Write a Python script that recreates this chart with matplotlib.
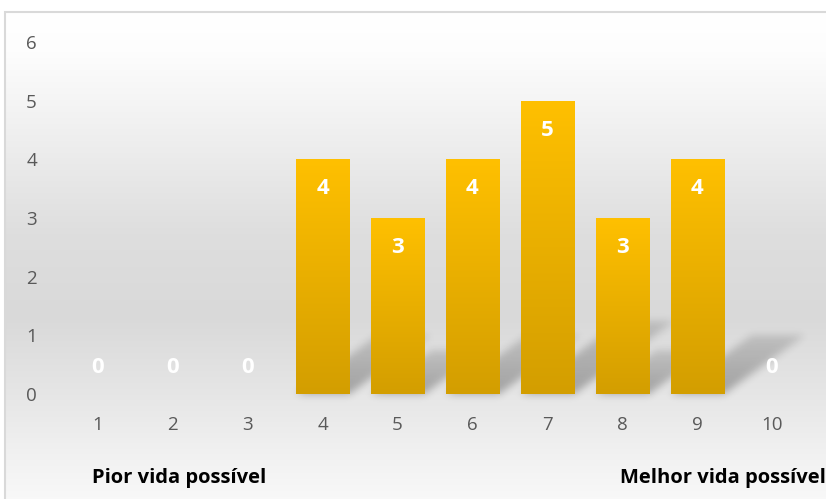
import numpy as np
import matplotlib.pyplot as plt
from matplotlib.colors import LinearSegmentedColormap
from matplotlib.patches import Rectangle
from matplotlib.path import Path

# data
categories = ["1", "2", "3", "4", "5", "6", "7", "8", "9", "10"]
values = [0, 0, 0, 4, 3, 4, 5, 3, 4, 0]
yticks = [0, 1, 2, 3, 4, 5, 6]
left_note = "Pior vida possível"
right_note = "Melhor vida possível"

W, H = 826, 499
fig = plt.figure(figsize=(W / 100, H / 100), dpi=100)

# chart background: vertical gray gradient inside a thin border
bg = fig.add_axes([0, 0, 1, 1], zorder=0)
bg.set_xlim(0, W)
bg.set_ylim(0, H)
bg.axis("off")
bg_cmap = LinearSegmentedColormap.from_list(
    "bg",
    [(0.0, "#ffffff"), (0.08, "#fdfdfd"), (0.25, "#efefef"), (0.45, "#dedede"),
     (0.62, "#d9d9d9"), (0.78, "#e6e6e6"), (0.9, "#f1f1f1"), (1.0, "#f9f9f9")])
grad = np.linspace(0, 1, 256).reshape(-1, 1)
bg.imshow(grad, cmap=bg_cmap, extent=[5, W + 5, -5, H - 12], aspect="auto", zorder=0)
bg.add_patch(Rectangle((5, -5), W, H - 7, fill=False, edgecolor="#d9d9d9", lw=1.5, zorder=3))

ax = fig.add_axes([60.5 / W, 105 / H, 749 / W, 352 / H], zorder=1)
ax.patch.set_alpha(0)
x = np.arange(len(categories))
bar_w = 0.71
ax.set_xlim(-0.5, len(categories) - 0.5)
ax.set_ylim(0, 6)

bars = ax.bar(x, values, width=bar_w, color="#e8b000", zorder=2)
bar_cmap = LinearSegmentedColormap.from_list("bar", ["#d39e00", "#ffc000"])
for b in bars:
    if b.get_height() <= 0:
        continue
    x0, y0 = b.get_x(), b.get_y()
    im = ax.imshow(np.linspace(0, 1, 256).reshape(-1, 1), cmap=bar_cmap, origin="lower",
                   extent=[x0, x0 + b.get_width(), y0, y0 + b.get_height()],
                   aspect="auto", zorder=3)
    im.set_clip_path(b)

# soft slanted shadows, rasterised in pixel space and blurred
yy, xx = np.mgrid[0:H, 0:W]
pix = np.column_stack([xx.ravel() + 0.5, yy.ravel() + 0.5])
shadow = np.zeros((H, W))
for b in bars:
    v = b.get_height()
    if v <= 0:
        continue
    x0, x1 = b.get_x(), b.get_x() + b.get_width()
    sh, dx = 0.25 * v, 0.27 * v
    pts = ax.transData.transform([(x0, 0), (x1, 0), (x1 + dx, sh), (x0 + dx, sh)])
    base_y, top_y = pts[0, 1], pts[2, 1]
    m = Path(pts).contains_points(pix).reshape(H, W)
    t = np.clip((yy - base_y) / (top_y - base_y), 0, 1)
    shadow = np.maximum(shadow, m * (1 - 0.55 * t))
k = np.exp(-0.5 * (np.arange(-12, 13) / 4.0) ** 2)
k /= k.sum()
for axis in (0, 1):
    shadow = np.apply_along_axis(lambda r: np.convolve(r, k, mode="same"), axis, shadow)
rgba = np.zeros((H, W, 4))
rgba[..., 3] = 0.3 * shadow
bg.imshow(rgba, extent=[0, W, 0, H], origin="lower", aspect="auto", zorder=1)

for xi, v in zip(x, values):
    ypos = v - 0.5 if v > 0 else 0.46
    ax.text(xi, ypos, str(v), ha="center", va="center", color="white",
            fontsize=16, fontweight="bold", family="Open Sans", zorder=4)

ax.set_xticks(x)
ax.set_xticklabels(categories)
ax.set_yticks(yticks)
for s in ax.spines.values():
    s.set_visible(False)
ax.tick_params(axis="both", length=0, colors="#595959", labelsize=13.5)
ax.tick_params(axis="x", pad=16)
ax.tick_params(axis="y", pad=17)
for lab in ax.get_xticklabels() + ax.get_yticklabels():
    lab.set_family("Open Sans")

fig.text(92 / W, 1 - 478 / H, left_note, ha="left", va="center",
         fontsize=14.5, fontweight="bold", family="Open Sans", color="#000000")
fig.text(620 / W, 1 - 478 / H, right_note, ha="left", va="center",
         fontsize=14.5, fontweight="bold", family="Open Sans", color="#000000")

fig.savefig("out.png", dpi=100)
